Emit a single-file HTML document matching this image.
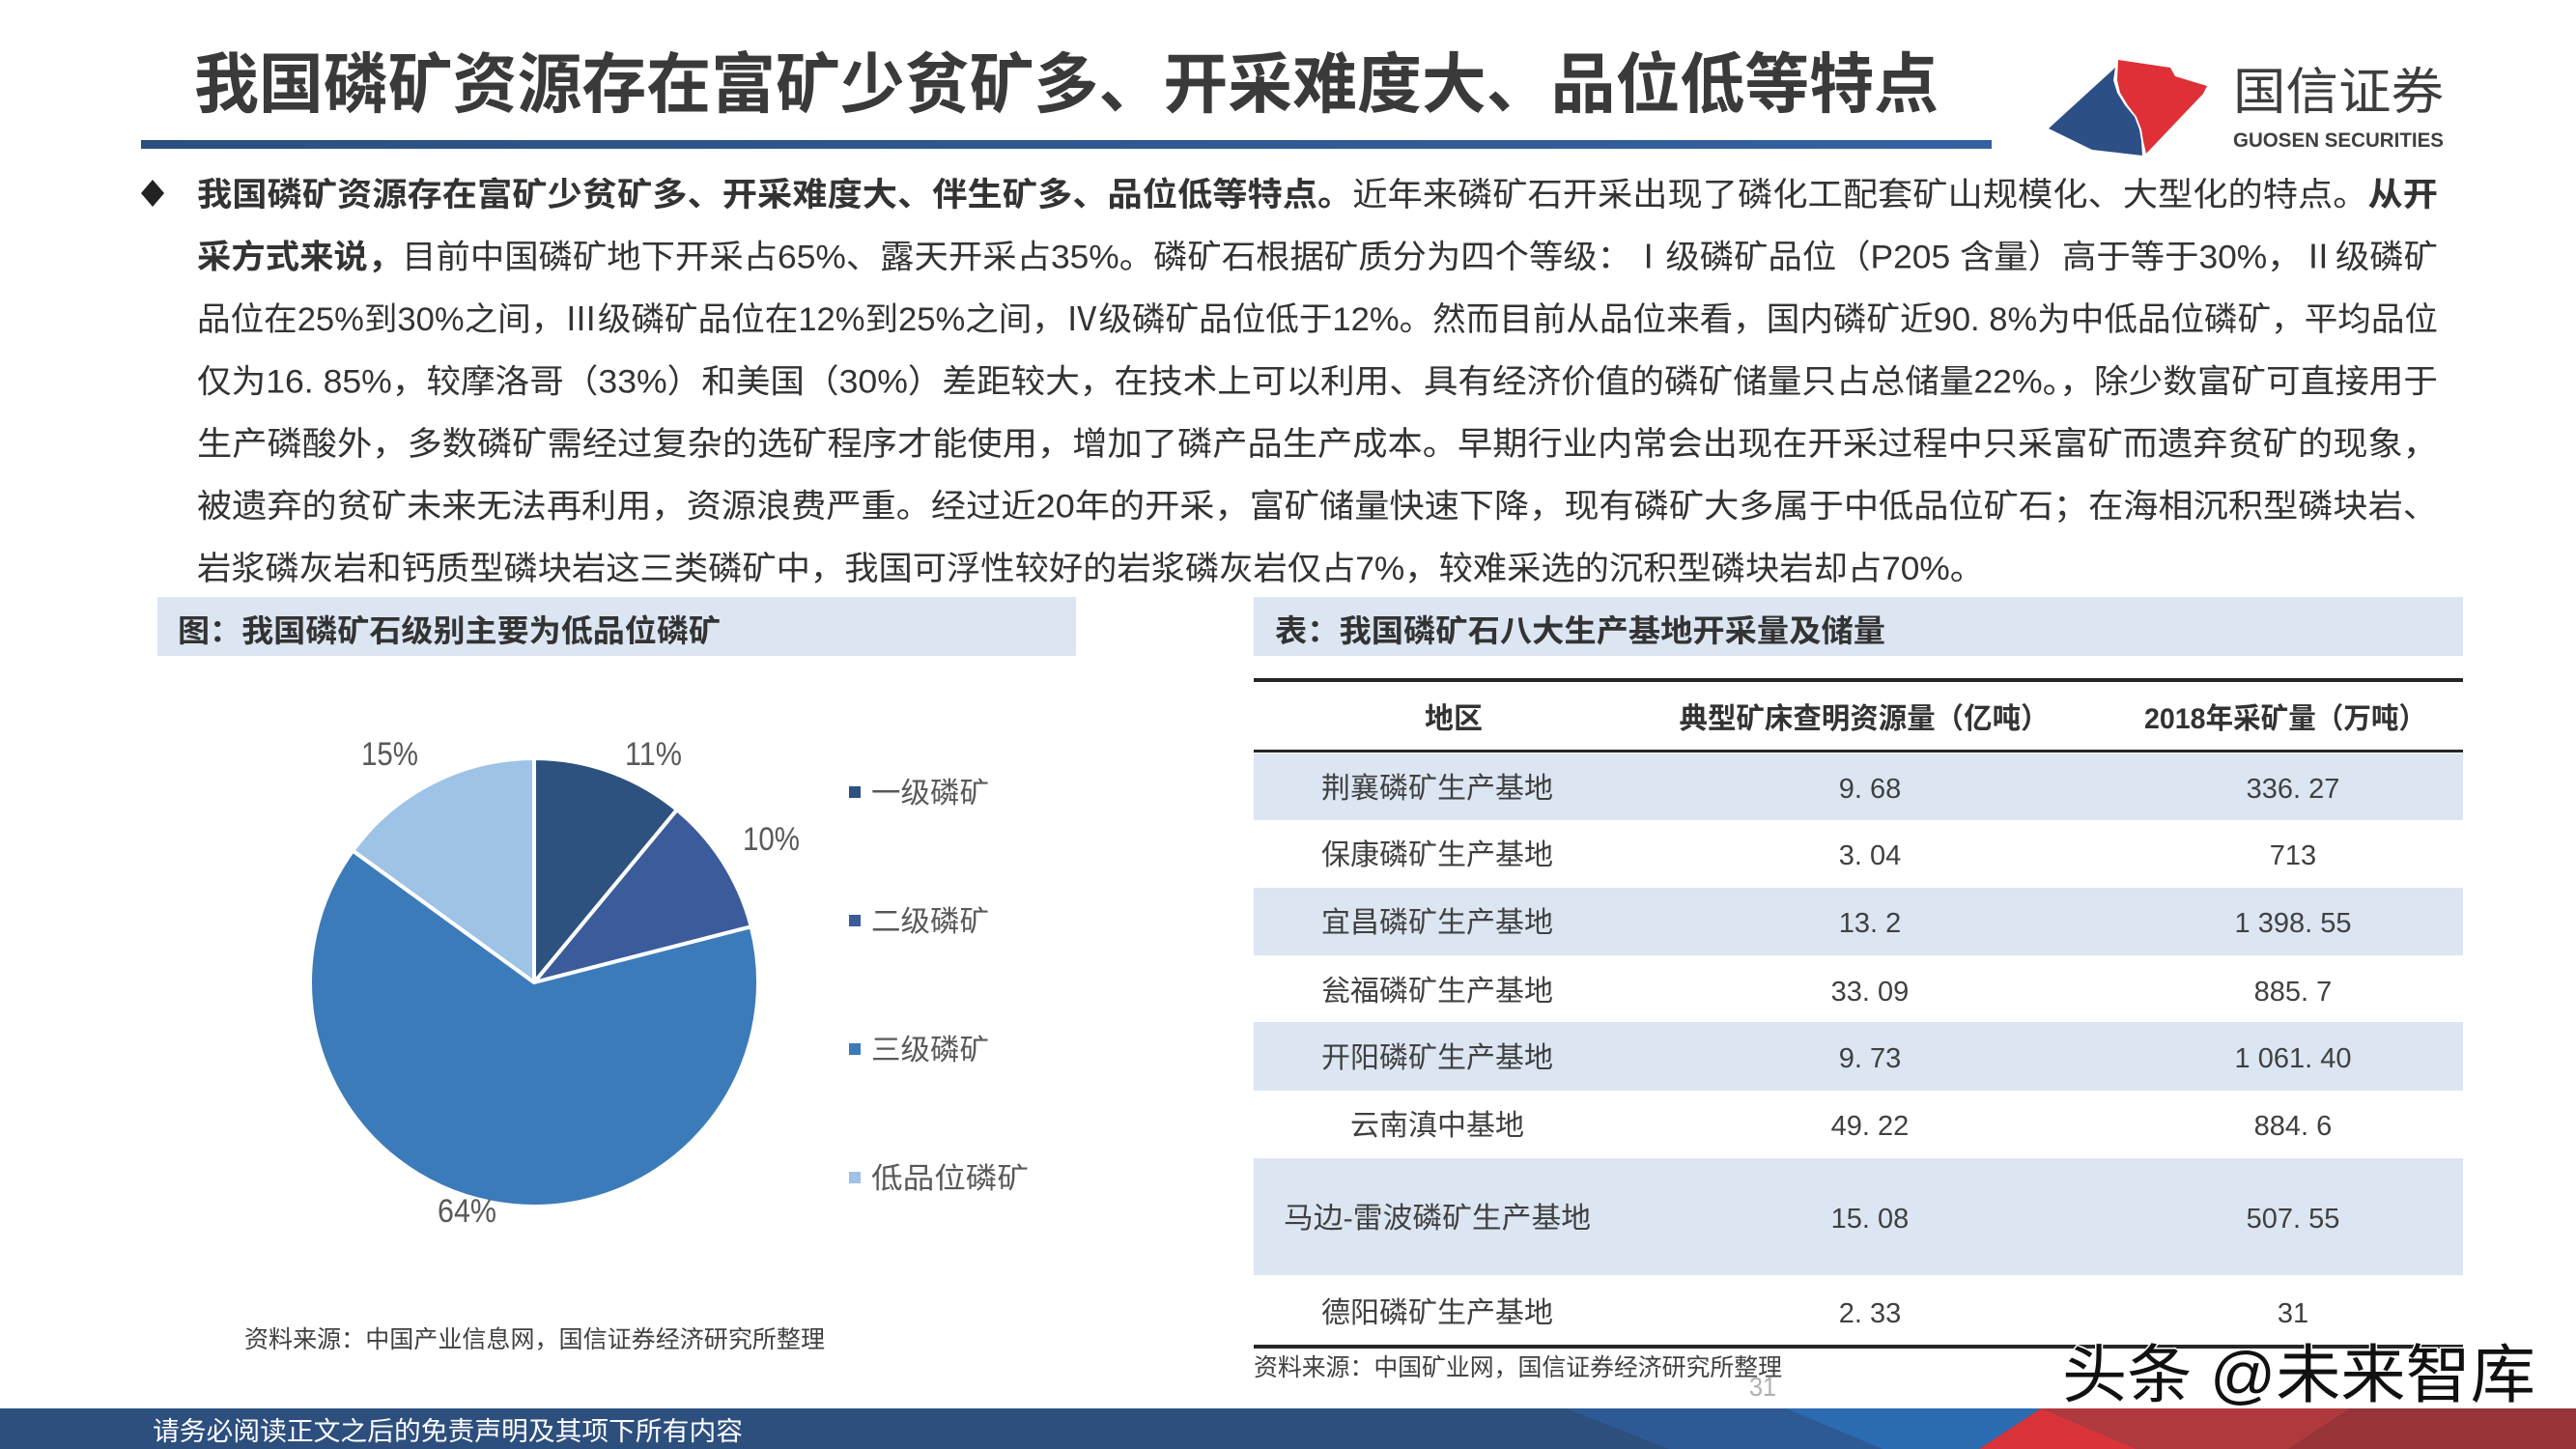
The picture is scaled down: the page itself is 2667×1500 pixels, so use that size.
<!DOCTYPE html>
<html><head><meta charset="utf-8">
<style>html,body{margin:0;padding:0;background:#fff}svg{display:block}</style>
</head><body>
<svg xmlns="http://www.w3.org/2000/svg" width="2667" height="1500" viewBox="0 0 2667 1500" font-family="'Liberation Sans','Noto Sans CJK SC',sans-serif">
<defs>
<linearGradient id="bl" x1="0" x2="1" y1="0" y2="0"><stop offset="0" stop-color="#2c4f80"/><stop offset="1" stop-color="#34619f"/></linearGradient>
</defs>
<rect width="2667" height="1500" fill="#fff"/>
<!-- Title -->
<text x="201" y="111" font-size="68" font-weight="bold" fill="#3a3a3a" textLength="1806" lengthAdjust="spacingAndGlyphs">我国磷矿资源存在富矿少贫矿多、开采难度大、品位低等特点</text>
<rect x="146" y="145" width="1916" height="9" fill="url(#bl)"/>
<!-- Logo -->
<polygon points="2121,133 2190,70 2188,83 2192,96 2200,109 2210,121 2215,134 2217,146 2218,161 2166,155" fill="#2c4f86"/>
<polygon points="2193,62 2247,70 2252,79 2285,89 2281,97 2222,159 2219,146 2217,134 2212,121 2203,109 2195,96 2192,83" fill="#de3036"/>
<text x="2312" y="113" font-size="52" fill="#3d3d3d" textLength="218" lengthAdjust="spacingAndGlyphs">国信证券</text>
<text x="2312" y="152" font-size="21" font-weight="bold" fill="#404040" textLength="218" lengthAdjust="spacingAndGlyphs">GUOSEN SECURITIES</text>
<!-- Bullet -->
<polygon points="158,186 170,200 158,214 146,200" fill="#222"/>
<g font-size="34" fill="#333">
<text x="204" y="213" textLength="2320" lengthAdjust="spacingAndGlyphs"><tspan font-weight="bold">我国磷矿资源存在富矿少贫矿多、开采难度大、伴生矿多、品位低等特点。</tspan>近年来磷矿石开采出现了磷化工配套矿山规模化、大型化的特点。<tspan font-weight="bold">从开</tspan></text>
<text x="204" y="277.5" textLength="2320" lengthAdjust="spacingAndGlyphs"><tspan font-weight="bold">采方式来说，</tspan>目前中国磷矿地下开采占65%、露天开采占35%。磷矿石根据矿质分为四个等级：Ⅰ级磷矿品位（P205 含量）高于等于30%，Ⅱ级磷矿</text>
<text x="204" y="342" textLength="2320" lengthAdjust="spacingAndGlyphs">品位在25%到30%之间，Ⅲ级磷矿品位在12%到25%之间，Ⅳ级磷矿品位低于12%。然而目前从品位来看，国内磷矿近90. 8%为中低品位磷矿，平均品位</text>
<text x="204" y="406.5" textLength="2320" lengthAdjust="spacingAndGlyphs">仅为16. 85%，较摩洛哥（33%）和美国（30%）差距较大，在技术上可以利用、具有经济价值的磷矿储量只占总储量22%。，除少数富矿可直接用于</text>
<text x="204" y="471" textLength="2320" lengthAdjust="spacingAndGlyphs">生产磷酸外，多数磷矿需经过复杂的选矿程序才能使用，增加了磷产品生产成本。早期行业内常会出现在开采过程中只采富矿而遗弃贫矿的现象，</text>
<text x="204" y="535.5" textLength="2320" lengthAdjust="spacingAndGlyphs">被遗弃的贫矿未来无法再利用，资源浪费严重。经过近20年的开采，富矿储量快速下降，现有磷矿大多属于中低品位矿石；在海相沉积型磷块岩、</text>
<text x="204" y="600" textLength="1850" lengthAdjust="spacingAndGlyphs">岩浆磷灰岩和钙质型磷块岩这三类磷矿中，我国可浮性较好的岩浆磷灰岩仅占7%，较难采选的沉积型磷块岩却占70%。</text>
</g>
<!-- Caption bars -->
<rect x="163" y="618" width="951" height="61" fill="#dce6f2"/>
<rect x="1298" y="618" width="1252" height="61" fill="#dce6f2"/>
<text x="184" y="664" font-size="32" font-weight="bold" fill="#333" textLength="562" lengthAdjust="spacingAndGlyphs">图：我国磷矿石级别主要为低品位磷矿</text>
<text x="1320" y="664" font-size="32" font-weight="bold" fill="#333" textLength="632" lengthAdjust="spacingAndGlyphs">表：我国磷矿石八大生产基地开采量及储量</text>
<!-- Pie -->
<g stroke="#fff" stroke-width="4" stroke-linejoin="round">
<path d="M553,1017 L553,785 A232,232 0 0 1 700.9,838.2 Z" fill="#2e527f"/>
<path d="M553,1017 L700.9,838.2 A232,232 0 0 1 777.7,959.3 Z" fill="#3b5b9b"/>
<path d="M553,1017 L777.7,959.3 A232,232 0 1 1 365.3,880.6 Z" fill="#3c7bba"/>
<path d="M553,1017 L365.3,880.6 A232,232 0 0 1 553,785 Z" fill="#9ec3e6"/>
</g>
<g font-size="34" fill="#595959">
<text x="374" y="792" textLength="59" lengthAdjust="spacingAndGlyphs">15%</text>
<text x="647" y="792" textLength="59" lengthAdjust="spacingAndGlyphs">11%</text>
<text x="769" y="880" textLength="59" lengthAdjust="spacingAndGlyphs">10%</text>
<text x="453" y="1265" textLength="61" lengthAdjust="spacingAndGlyphs">64%</text>
</g>
<rect x="879" y="814" width="12" height="12" fill="#2e527f"/>
<rect x="879" y="947" width="12" height="12" fill="#3b5b9b"/>
<rect x="879" y="1080" width="12" height="12" fill="#3c7bba"/>
<rect x="879" y="1213" width="12" height="12" fill="#9ec3e6"/>
<g font-size="30" fill="#595959">
<text x="902" y="831" textLength="122" lengthAdjust="spacingAndGlyphs">一级磷矿</text>
<text x="902" y="964" textLength="122" lengthAdjust="spacingAndGlyphs">二级磷矿</text>
<text x="902" y="1097" textLength="122" lengthAdjust="spacingAndGlyphs">三级磷矿</text>
<text x="902" y="1230" textLength="163" lengthAdjust="spacingAndGlyphs">低品位磷矿</text>
</g>
<text x="253" y="1395" font-size="25" fill="#404040" textLength="601" lengthAdjust="spacingAndGlyphs">资料来源：中国产业信息网，国信证券经济研究所整理</text>
<!-- Table -->
<rect x="1298" y="780" width="1252" height="69" fill="#dce6f2"/>
<rect x="1298" y="919" width="1252" height="70" fill="#dce6f2"/>
<rect x="1298" y="1058" width="1252" height="71" fill="#dce6f2"/>
<rect x="1298" y="1199" width="1252" height="121" fill="#dce6f2"/>
<rect x="1298" y="702" width="1252" height="4" fill="#262626"/>
<rect x="1298" y="776" width="1252" height="3" fill="#262626"/>
<rect x="1298" y="1392" width="1252" height="4" fill="#262626"/>
<g font-size="30" font-weight="bold" fill="#333" text-anchor="middle">
<text x="1505" y="754">地区</text>
<text x="1930" y="754" textLength="383" lengthAdjust="spacingAndGlyphs">典型矿床查明资源量（亿吨）</text>
<text x="2366" y="754" textLength="292" lengthAdjust="spacingAndGlyphs">2018年采矿量（万吨）</text>
</g>
<g font-size="30" fill="#404040" text-anchor="middle">
<text x="1488" y="826">荆襄磷矿生产基地</text>
<text x="1488" y="895">保康磷矿生产基地</text>
<text x="1488" y="965">宜昌磷矿生产基地</text>
<text x="1488" y="1036">瓮福磷矿生产基地</text>
<text x="1488" y="1105">开阳磷矿生产基地</text>
<text x="1488" y="1175">云南滇中基地</text>
<text x="1488" y="1271" textLength="318" lengthAdjust="spacingAndGlyphs">马边-雷波磷矿生产基地</text>
<text x="1488" y="1369">德阳磷矿生产基地</text>
</g>
<g font-size="29" fill="#404040" text-anchor="middle">
<text x="1936" y="826">9. 68</text>
<text x="1936" y="895">3. 04</text>
<text x="1936" y="965">13. 2</text>
<text x="1936" y="1036">33. 09</text>
<text x="1936" y="1105">9. 73</text>
<text x="1936" y="1175">49. 22</text>
<text x="1936" y="1271">15. 08</text>
<text x="1936" y="1369">2. 33</text>
<text x="2374" y="826">336. 27</text>
<text x="2374" y="895">713</text>
<text x="2374" y="965">1  398. 55</text>
<text x="2374" y="1036">885. 7</text>
<text x="2374" y="1105">1  061. 40</text>
<text x="2374" y="1175">884. 6</text>
<text x="2374" y="1271">507. 55</text>
<text x="2374" y="1369">31</text>
</g>
<text x="1298" y="1424" font-size="25" fill="#404040" textLength="547" lengthAdjust="spacingAndGlyphs">资料来源：中国矿业网，国信证券经济研究所整理</text>
<text x="1825" y="1445" font-size="28" fill="#b0b0b0" text-anchor="middle" textLength="28" lengthAdjust="spacingAndGlyphs">31</text>
<!-- Footer -->
<rect x="0" y="1458" width="2667" height="42" fill="#2d4f7e"/>
<polygon points="1621,1458 1849,1458 1949,1500 1728,1500" fill="#2d5a94"/>
<polygon points="1849,1458 2113,1458 2049,1500 1949,1500" fill="#2a6bb2"/>
<polygon points="2113,1458 2433,1458 2369,1500 2212,1500" fill="#b0393e"/>
<polygon points="2113,1458 2212,1500 2049,1500" fill="#d9343a"/>
<polygon points="2433,1458 2667,1458 2667,1500 2369,1500" fill="#963438"/>
<text x="158" y="1491" font-size="27" fill="#fff" textLength="611" lengthAdjust="spacingAndGlyphs">请务必阅读正文之后的免责声明及其项下所有内容</text>
<!-- Watermark -->
<text x="2135" y="1446" font-size="66" fill="#111" stroke="#fff" stroke-width="3" paint-order="stroke" textLength="490" lengthAdjust="spacingAndGlyphs">头条 @未来智库</text>
</svg>
</body></html>
